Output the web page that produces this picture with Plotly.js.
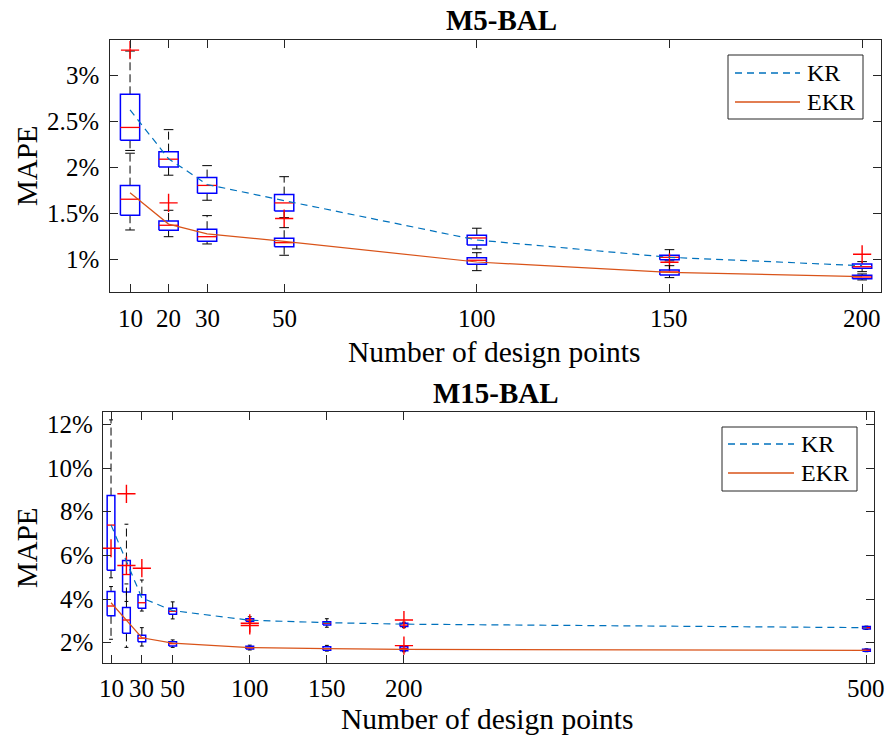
<!DOCTYPE html>
<html>
<head>
<meta charset="utf-8">
<script src="https://cdn.plot.ly/plotly-3.0.1.min.js"></script>
<style>html,body{margin:0;padding:0;background:#fff;}#chart{width:890px;height:740px;}</style>
</head>
<body>
<div id="chart"></div>
<script>
// ---------- Data (MAPE in %) ----------
const xTop = [10, 20, 30, 50, 100, 150, 200];
const xTopTicks = [10, 20, 30, 50, 100, 150, 200];
const yTopTicks = [1, 1.5, 2, 2.5, 3];

const krTopMean = [2.63, 2.10, 1.82, 1.645, 1.217, 1.029, 0.938];
const krTopQ1   = [2.30, 2.01, 1.725, 1.533, 1.163, 1.003, 0.910];
const krTopMed  = [2.44, 2.095, 1.81, 1.62, 1.239, 1.029, 0.927];
const krTopQ3   = [2.80, 2.177, 1.895, 1.71, 1.268, 1.051, 0.957];
const krTopLo   = [2.19, 1.921, 1.649, 1.46, 1.12, 0.99, 0.873];
const krTopHi   = [3.27, 2.416, 2.025, 1.905, 1.345, 1.112, 0.982];
const krTopOutX = [10, 50, 150, 200];
const krTopOutY = [3.28, 1.45, 0.975, 1.062];

const ekrTopMean = [1.73, 1.39, 1.283, 1.203, 0.978, 0.866, 0.818];
const ekrTopQ1   = [1.486, 1.323, 1.203, 1.145, 0.953, 0.837, 0.797];
const ekrTopMed  = [1.66, 1.377, 1.253, 1.188, 0.997, 0.87, 0.815];
const ekrTopQ3   = [1.808, 1.424, 1.334, 1.236, 1.025, 0.891, 0.834];
const ekrTopLo   = [1.326, 1.253, 1.174, 1.051, 0.884, 0.808, 0.783];
const ekrTopHi   = [2.16, 1.54, 1.482, 1.351, 1.079, 0.938, 0.848];
const ekrTopOutX = [20];
const ekrTopOutY = [1.62];

const xBot = [10, 20, 30, 50, 100, 150, 200, 500];
const xBotTicks = [10, 30, 50, 100, 150, 200, 500];
const yBotTicks = [2, 4, 6, 8, 10, 12];

const krBotMean = [7.4, 5.7, 4.06, 3.48, 3.04, 2.93, 2.86, 2.7];
const krBotQ1   = [5.33, 4.33, 3.59, 3.31, 2.99, 2.82, 2.75, 2.64];
const krBotMed  = [7.39, 5.13, 3.84, 3.45, 3.05, 2.9, 2.82, 2.7];
const krBotQ3   = [8.74, 5.77, 4.21, 3.59, 3.11, 2.97, 2.9, 2.75];
const krBotLo   = [4.98, 3.9, 3.46, 3.1, 2.96, 2.72, 2.7, 2.62];
const krBotHi   = [12.2, 7.43, 4.88, 3.88, 3.2, 3.11, 2.95, 2.77];
const krBotOutX = [20, 30, 100, 100, 200];
const krBotOutY = [8.82, 5.42, 2.8, 2.9, 3.05];

const ekrBotMean = [3.84, 3.05, 2.24, 1.99, 1.79, 1.74, 1.71, 1.66];
const ekrBotQ1   = [3.24, 2.44, 2.06, 1.86, 1.73, 1.67, 1.65, 1.62];
const ekrBotMed  = [3.69, 3.05, 2.22, 1.97, 1.78, 1.74, 1.74, 1.67];
const ekrBotQ3   = [4.35, 3.62, 2.35, 2.06, 1.85, 1.83, 1.83, 1.71];
const ekrBotLo   = [2.17, 1.8, 1.86, 1.8, 1.68, 1.63, 1.6, 1.6];
const ekrBotHi   = [4.58, 4.7, 2.7, 2.14, 1.9, 1.89, 1.87, 1.73];
const ekrBotOutX = [10, 20, 200];
const ekrBotOutY = [6.33, 5.54, 1.88];

const seriesNames = ['KR', 'EKR'];
const panelTitles = ['M5-BAL', 'M15-BAL'];
const xTitle = 'Number of design points';
const yTitle = 'MAPE';

// ---------- Style ----------
const FONT = 'Liberation Serif';
const KR_COLOR = '#0072BD';
const EKR_COLOR = '#D95319';
const KR_DASH = '7px,5px';
const BOX_W = 5;
const AX_COLOR = '#262626';

function boxTraces(xs, q1, med, q3, lo, hi, outX, outY, xa, ya) {
  const bx = [], by = [], wx = [], wy = [], cx = [], cy = [], mx = [], my = [];
  xs.forEach((x, i) => {
    const a = x - BOX_W / 2, b = x + BOX_W / 2;
    bx.push(a, b, b, a, a, null); by.push(q1[i], q1[i], q3[i], q3[i], q1[i], null);
    wx.push(x, x, null, x, x, null); wy.push(q3[i], hi[i], null, q1[i], lo[i], null);
    cx.push(x - BOX_W / 4, x + BOX_W / 4, null, x - BOX_W / 4, x + BOX_W / 4, null);
    cy.push(hi[i], hi[i], null, lo[i], lo[i], null);
    mx.push(a, b, null); my.push(med[i], med[i], null);
  });
  const common = {xaxis: xa, yaxis: ya, mode: 'lines', showlegend: false, hoverinfo: 'skip'};
  return [
    Object.assign({x: wx, y: wy, line: {color: '#000', width: 1, dash: '8px,4px'}}, common),
    Object.assign({x: cx, y: cy, line: {color: '#000', width: 1}}, common),
    Object.assign({x: bx, y: by, line: {color: '#0000FF', width: 1.5}}, common),
    Object.assign({x: mx, y: my, line: {color: '#FF0000', width: 1.3}}, common),
    {x: outX, y: outY, xaxis: xa, yaxis: ya, mode: 'markers', showlegend: false, hoverinfo: 'skip',
     marker: {symbol: 'cross-thin-open', size: 13, color: '#FF0000', line: {color: '#FF0000', width: 1.4}}}
  ];
}

const traces = [].concat(
  boxTraces(xTop, krTopQ1, krTopMed, krTopQ3, krTopLo, krTopHi, krTopOutX, krTopOutY, 'x', 'y'),
  boxTraces(xTop, ekrTopQ1, ekrTopMed, ekrTopQ3, ekrTopLo, ekrTopHi, ekrTopOutX, ekrTopOutY, 'x', 'y'),
  boxTraces(xBot, krBotQ1, krBotMed, krBotQ3, krBotLo, krBotHi, krBotOutX, krBotOutY, 'x2', 'y2'),
  boxTraces(xBot, ekrBotQ1, ekrBotMed, ekrBotQ3, ekrBotLo, ekrBotHi, ekrBotOutX, ekrBotOutY, 'x2', 'y2'),
  [
    {x: xTop, y: krTopMean, name: seriesNames[0], xaxis: 'x', yaxis: 'y', mode: 'lines', showlegend: false,
     line: {color: KR_COLOR, width: 1.2, dash: KR_DASH}},
    {x: xTop, y: ekrTopMean, name: seriesNames[1], xaxis: 'x', yaxis: 'y', mode: 'lines', showlegend: false,
     line: {color: EKR_COLOR, width: 1.2}},
    {x: xBot, y: krBotMean, name: seriesNames[0], xaxis: 'x2', yaxis: 'y2', mode: 'lines', showlegend: false,
     line: {color: KR_COLOR, width: 1.2, dash: KR_DASH}},
    {x: xBot, y: ekrBotMean, name: seriesNames[1], xaxis: 'x2', yaxis: 'y2', mode: 'lines', showlegend: false,
     line: {color: EKR_COLOR, width: 1.2}}
  ]
);

const W = 890, H = 740;
const px = v => v / W;
const py = v => 1 - v / H;

function makeAxis(extra) {
  return Object.assign({
    showline: true, mirror: 'ticks', linecolor: AX_COLOR, linewidth: 1,
    ticks: 'inside', ticklen: 8, tickwidth: 1, tickcolor: AX_COLOR,
    showgrid: false, zeroline: false, showticklabels: false,
    fixedrange: true, automargin: false, tickmode: 'array'
  }, extra);
}

// ---------- Text (tick labels, titles, legends) as annotations ----------
const TICK_SIZE = 25;
const ann = [];
function txt(o) {
  ann.push(Object.assign({showarrow: false, borderpad: 0,
    font: {family: FONT, size: TICK_SIZE, color: '#000'}}, o));
}
xTopTicks.forEach(v => txt({text: String(v), xref: 'x', yref: 'paper', x: v, y: py(318), xanchor: 'center', yanchor: 'middle'}));
yTopTicks.forEach(v => txt({text: v + '%', xref: 'paper', yref: 'y', x: px(100), y: v, xanchor: 'right', yanchor: 'middle'}));
xBotTicks.forEach(v => txt({text: String(v), xref: 'x2', yref: 'paper', x: v, y: py(688), xanchor: 'center', yanchor: 'middle'}));
yBotTicks.forEach(v => txt({text: v + '%', xref: 'paper', yref: 'y2', x: px(94), y: v, xanchor: 'right', yanchor: 'middle'}));

txt({text: panelTitles[0], xref: 'paper', yref: 'paper', x: px(501), y: py(20), xanchor: 'center', yanchor: 'middle',
     font: {family: FONT, size: 29, weight: 'bold', color: '#000'}});
txt({text: panelTitles[1], xref: 'paper', yref: 'paper', x: px(496), y: py(393), xanchor: 'center', yanchor: 'middle',
     font: {family: FONT, size: 29, weight: 'bold', color: '#000'}});
txt({text: xTitle, xref: 'paper', yref: 'paper', x: px(494), y: py(352), xanchor: 'center', yanchor: 'middle',
     font: {family: FONT, size: 29.5, color: '#000'}});
txt({text: xTitle, xref: 'paper', yref: 'paper', x: px(487), y: py(719), xanchor: 'center', yanchor: 'middle',
     font: {family: FONT, size: 29.5, color: '#000'}});
txt({text: yTitle, xref: 'paper', yref: 'paper', x: px(27), y: py(166), xanchor: 'center', yanchor: 'middle', textangle: -90,
     font: {family: FONT, size: 29, color: '#000'}});
txt({text: yTitle, xref: 'paper', yref: 'paper', x: px(27), y: py(548), xanchor: 'center', yanchor: 'middle', textangle: -90,
     font: {family: FONT, size: 29, color: '#000'}});

// Legends (box, line samples, labels)
const shapes = [];
function legendBox(x0, y0, x1, y1, lineX0, lineX1, textX, rowY) {
  shapes.push({type: 'rect', xref: 'paper', yref: 'paper', x0: px(x0), x1: px(x1), y0: py(y1), y1: py(y0),
               line: {color: AX_COLOR, width: 1}, fillcolor: '#fff', layer: 'above'});
  shapes.push({type: 'line', xref: 'paper', yref: 'paper', x0: px(lineX0), x1: px(lineX1), y0: py(rowY[0]), y1: py(rowY[0]),
               line: {color: KR_COLOR, width: 1.3, dash: KR_DASH}, layer: 'above'});
  shapes.push({type: 'line', xref: 'paper', yref: 'paper', x0: px(lineX0), x1: px(lineX1), y0: py(rowY[1]), y1: py(rowY[1]),
               line: {color: EKR_COLOR, width: 1.3}, layer: 'above'});
  seriesNames.forEach((n, i) => txt({text: n, xref: 'paper', yref: 'paper', x: px(textX), y: py(rowY[i]),
                                     xanchor: 'left', yanchor: 'middle', font: {family: FONT, size: 24, color: '#000'}}));
}
legendBox(728, 55, 863, 119, 735, 800, 806, [73, 102]);
legendBox(722, 427, 857, 491, 728, 794, 800, [444, 473]);

const layout = {
  width: W, height: H,
  margin: {l: 0, r: 0, t: 0, b: 0},
  paper_bgcolor: '#fff', plot_bgcolor: '#fff',
  font: {family: FONT, size: 24, color: '#000'},
  showlegend: false,
  xaxis: makeAxis({domain: [px(110), px(881)], range: [4.8, 204.9], anchor: 'y', tickvals: xTopTicks}),
  yaxis: makeAxis({domain: [py(292), py(40)], range: [0.652, 3.39], anchor: 'x', tickvals: yTopTicks}),
  xaxis2: makeAxis({domain: [px(103), px(874)], range: [4.8, 504.9], anchor: 'y2', tickvals: xBotTicks}),
  yaxis2: makeAxis({domain: [py(663), py(412)], range: [1.085, 12.56], anchor: 'x2', tickvals: yBotTicks}),
  shapes: shapes,
  annotations: ann
};

Plotly.newPlot('chart', traces, layout, {staticPlot: true, displayModeBar: false});
</script>
</body>
</html>
